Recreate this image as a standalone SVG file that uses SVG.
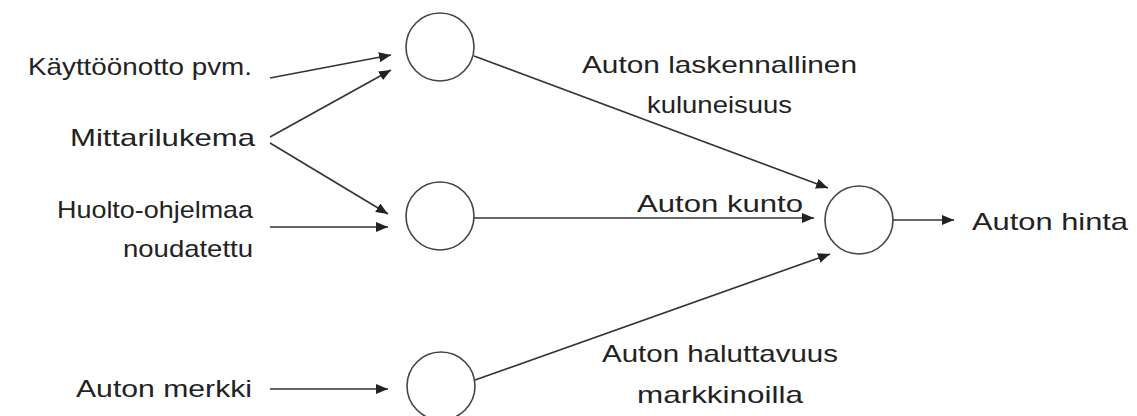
<svg xmlns="http://www.w3.org/2000/svg" width="1137" height="416" viewBox="0 0 1137 416">
  <style>
    .lbl { font-family: "Liberation Sans", Arial, sans-serif; font-size: 24px; fill: #222; }
    .node { fill: #fff; stroke: #444; stroke-width: 1.6; }
    .edge { stroke: #333; stroke-width: 1.6; fill: none; marker-end: url(#arrow); }
    .plain { stroke: #333; stroke-width: 1.6; fill: none; }
  </style>
  <defs>
    <marker id="arrow" markerUnits="userSpaceOnUse" markerWidth="12" markerHeight="10" refX="12" refY="5" orient="auto">
      <path d="M0,0 L12,5 L0,10 Z" fill="#222"/>
    </marker>
  </defs>
  <rect width="1137" height="416" fill="#fff"/>

  <!-- input labels -->
  <g id="in-kayttoonotto"><text class="lbl" x="252" y="75" text-anchor="end" textLength="224" lengthAdjust="spacingAndGlyphs">Käyttöönotto pvm.</text></g>
  <g id="in-mittarilukema"><text class="lbl" x="255" y="146" text-anchor="end" textLength="185" lengthAdjust="spacingAndGlyphs">Mittarilukema</text></g>
  <g id="in-huolto">
    <text class="lbl" x="253" y="218" text-anchor="end" textLength="196" lengthAdjust="spacingAndGlyphs">Huolto-ohjelmaa</text>
    <text class="lbl" x="253" y="257" text-anchor="end" textLength="130" lengthAdjust="spacingAndGlyphs">noudatettu</text>
  </g>
  <g id="in-merkki"><text class="lbl" x="252" y="397" text-anchor="end" textLength="176" lengthAdjust="spacingAndGlyphs">Auton merkki</text></g>

  <!-- connectors -->
  <g id="connectors">
    <line class="edge" x1="270" y1="78" x2="391" y2="55"/>
    <line class="edge" x1="270" y1="137" x2="391" y2="70"/>
    <line class="edge" x1="270" y1="143" x2="388" y2="214"/>
    <line class="edge" x1="270" y1="227" x2="388" y2="227"/>
    <line class="edge" x1="270" y1="389" x2="388" y2="389"/>
    <line class="edge" x1="474" y1="56" x2="828" y2="188"/>
    <line class="edge" x1="474" y1="218" x2="814" y2="218"/>
    <line class="edge" x1="475" y1="380" x2="830" y2="254"/>
    <line class="edge" x1="893" y1="220" x2="954" y2="220"/>
  </g>

  <!-- hidden nodes -->
  <g id="node-kuluneisuus"><circle class="node" cx="440" cy="47" r="34"/></g>
  <g id="node-kunto"><circle class="node" cx="440" cy="216" r="34"/></g>
  <g id="node-haluttavuus"><circle class="node" cx="441" cy="386" r="34"/></g>
  <g id="node-hinta"><circle class="node" cx="859" cy="220" r="34"/></g>

  <!-- edge / output labels -->
  <g id="lbl-kuluneisuus">
    <text class="lbl" x="582" y="73" textLength="275" lengthAdjust="spacingAndGlyphs">Auton laskennallinen</text>
    <text class="lbl" x="647" y="113" textLength="145" lengthAdjust="spacingAndGlyphs">kuluneisuus</text>
  </g>
  <g id="lbl-kunto"><text class="lbl" x="637" y="212" textLength="166" lengthAdjust="spacingAndGlyphs">Auton kunto</text></g>
  <g id="lbl-haluttavuus">
    <text class="lbl" x="602" y="362" textLength="236" lengthAdjust="spacingAndGlyphs">Auton haluttavuus</text>
    <text class="lbl" x="637" y="403" textLength="166" lengthAdjust="spacingAndGlyphs">markkinoilla</text>
  </g>
  <g id="out-hinta"><text class="lbl" x="972" y="230" textLength="156" lengthAdjust="spacingAndGlyphs">Auton hinta</text></g>
</svg>
